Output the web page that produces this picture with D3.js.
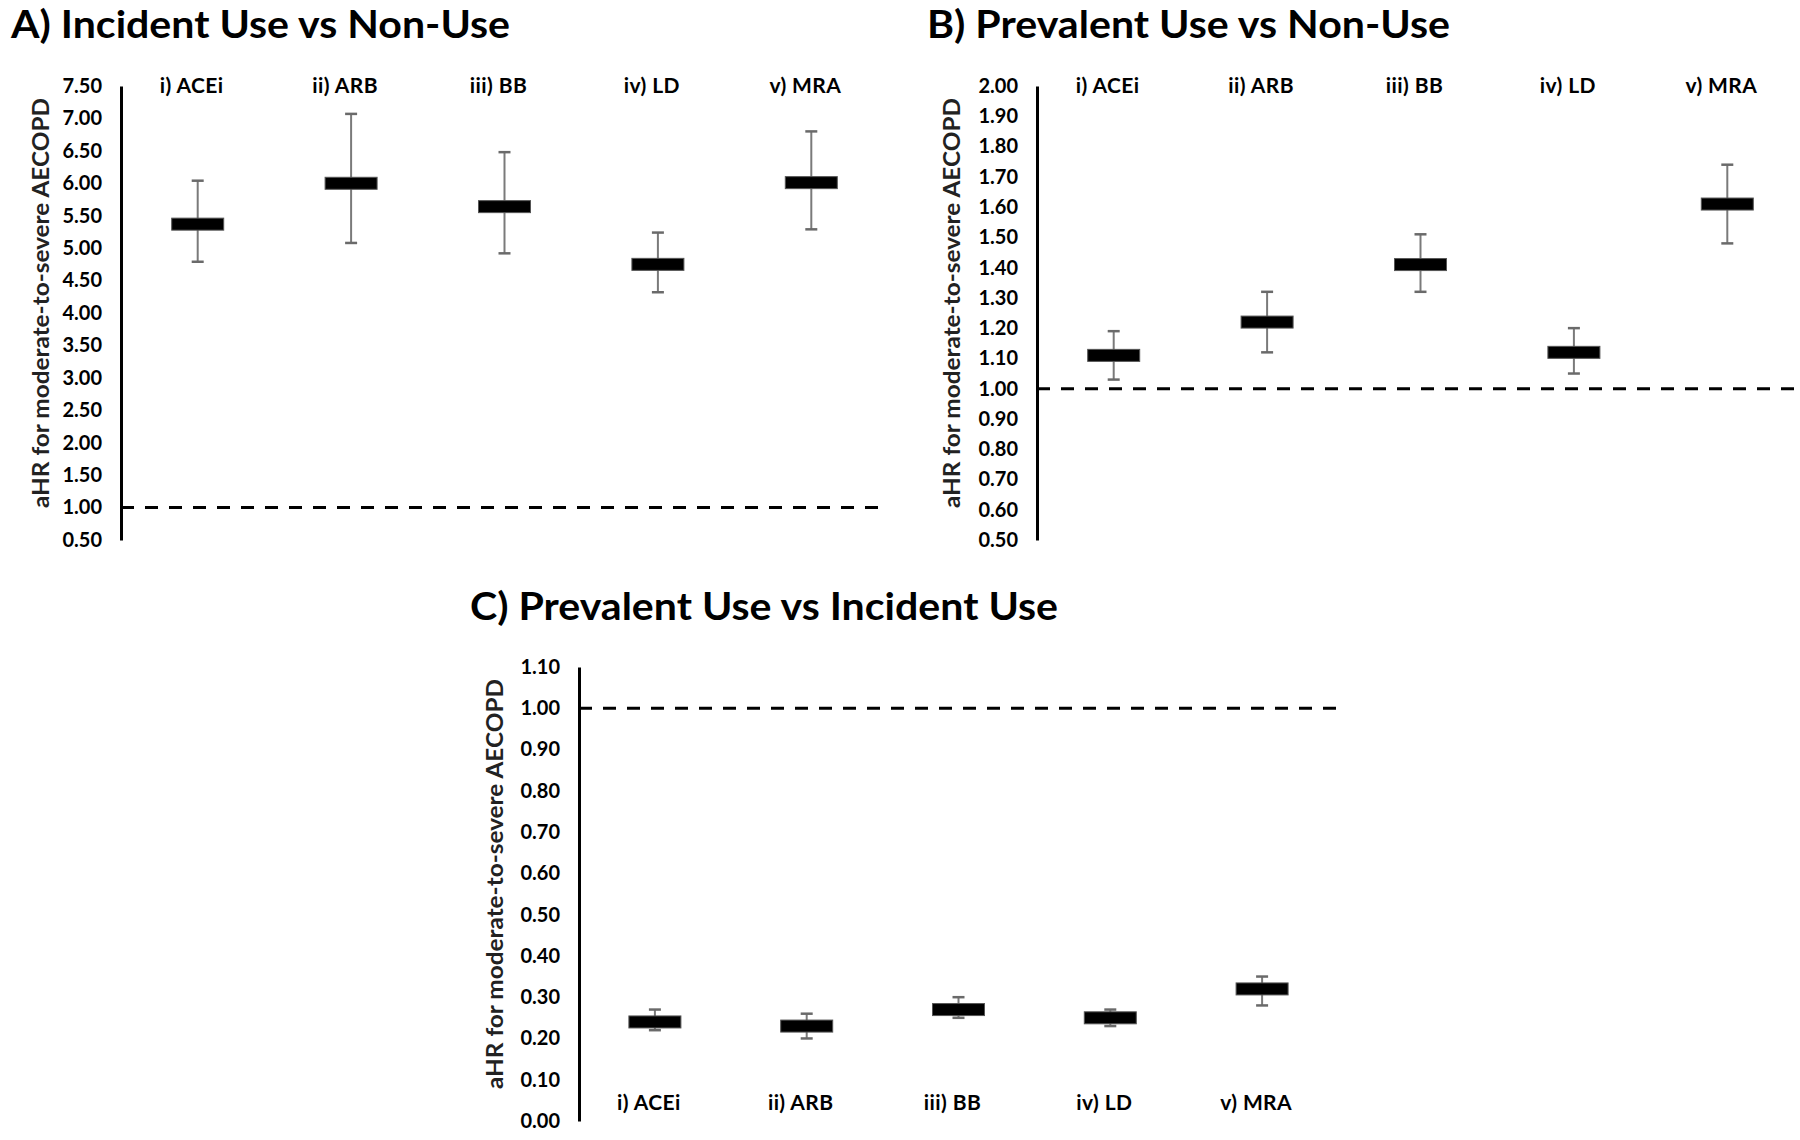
<!DOCTYPE html>
<html>
<head>
<meta charset="utf-8">
<script src="https://cdn.jsdelivr.net/npm/d3@7"></script>
<style>
  body { margin: 0; background: #fff; }
  svg text { font-family: Lato, "Open Sans", sans-serif; fill: #000; }
</style>
</head>
<body>
<div id="chart"></div>
<script>

// drug classes, same order in every panel
var categories = ["i) ACEi", "ii) ARB", "iii) BB", "iv) LD", "v) MRA"];

// A) incident use vs non-use
var incidentHR = [5.37, 6.00, 5.64, 4.75, 6.01];
var incidentLo = [4.79, 5.08, 4.92, 4.32, 5.29];
var incidentHi = [6.04, 7.07, 6.48, 5.24, 6.80];

// B) prevalent use vs non-use
var prevalentHR = [1.11, 1.22, 1.41, 1.12, 1.61];
var prevalentLo = [1.03, 1.12, 1.32, 1.05, 1.48];
var prevalentHi = [1.19, 1.32, 1.51, 1.20, 1.74];

// C) prevalent use vs incident use
var prevIncHR = [0.24, 0.23, 0.27, 0.25, 0.32];
var prevIncLo = [0.22, 0.20, 0.25, 0.23, 0.28];
var prevIncHi = [0.27, 0.26, 0.30, 0.27, 0.35];

var ticksA = [0.5, 1.0, 1.5, 2.0, 2.5, 3.0, 3.5, 4.0, 4.5, 5.0, 5.5, 6.0, 6.5, 7.0, 7.5];
var ticksB = [0.5, 0.6, 0.7, 0.8, 0.9, 1.0, 1.1, 1.2, 1.3, 1.4, 1.5, 1.6, 1.7, 1.8, 1.9, 2.0];
var ticksC = [0.0, 0.1, 0.2, 0.3, 0.4, 0.5, 0.6, 0.7, 0.8, 0.9, 1.0, 1.1];

var yTitle = "aHR for moderate-to-severe AECOPD";

var width = 1800, height = 1140;

var svg = d3.select("#chart")
    .append("svg")
    .attr("width", width)
    .attr("height", height);

var panels = [
    { title: "A) Incident Use vs Non-Use", hr: incidentHR, lo: incidentLo, hi: incidentHi, ticks: ticksA,
      left: 121, right: 888, top: 86, bottom: 540, titleX: 11, titleY: 38, titleW: 499,
      yTitleX: 49, labels: "top" },
    { title: "B) Prevalent Use vs Non-Use", hr: prevalentHR, lo: prevalentLo, hi: prevalentHi, ticks: ticksB,
      left: 1037, right: 1804, top: 86, bottom: 540, titleX: 927, titleY: 38, titleW: 523,
      yTitleX: 960, labels: "top" },
    { title: "C) Prevalent Use vs Incident Use", hr: prevIncHR, lo: prevIncLo, hi: prevIncHi, ticks: ticksC,
      left: 579, right: 1338, top: 667, bottom: 1121, titleX: 470, titleY: 620, titleW: 588,
      yTitleX: 503, labels: "bottom" }
];

panels.forEach(function(p){

    var g = svg.append("g");

    var xScale = d3.scaleBand()
        .domain(categories)
        .range([p.left, p.right])
        .padding(0);

    var yScale = d3.scaleLinear()
        .domain([d3.min(p.ticks), d3.max(p.ticks)])
        .range([p.bottom, p.top]);

    var rows = categories.map(function(c, i){
        return { cat: c, hr: p.hr[i], lo: p.lo[i], hi: p.hi[i] };
    });

    // panel title
    g.append("text")
        .attr("x", p.titleX)
        .attr("y", p.titleY)
        .attr("textLength", p.titleW)
        .attr("lengthAdjust", "spacingAndGlyphs")
        .style("font-size", "38px")
        .style("font-weight", "bold")
        .text(p.title);

    // y axis
    var axis = g.append("g")
        .attr("transform", "translate(" + p.left + ",0)")
        .call(d3.axisLeft(yScale)
            .tickValues(p.ticks)
            .tickSize(0)
            .tickPadding(19)
            .tickFormat(d3.format(".2f")));

    axis.select(".domain")
        .attr("stroke", "#000")
        .attr("stroke-width", 3);

    axis.selectAll(".tick text")
        .style("font-size", "20px")
        .style("font-weight", "bold")
        .style("font-family", "Lato, 'Open Sans', sans-serif")
        .attr("fill", "#000");

    // y axis title
    var midY = (p.top + p.bottom) / 2 - 10;
    g.append("text")
        .attr("transform", "translate(" + p.yTitleX + "," + midY + ") rotate(-90)")
        .attr("text-anchor", "middle")
        .attr("textLength", 410)
        .attr("lengthAdjust", "spacingAndGlyphs")
        .style("font-size", "22px")
        .style("font-weight", "bold")
        .style("fill", "#222")
        .text(yTitle);

    // reference line at HR = 1
    g.append("line")
        .attr("x1", p.left)
        .attr("x2", p.right)
        .attr("y1", yScale(1))
        .attr("y2", yScale(1))
        .attr("stroke", "#000")
        .attr("stroke-width", 3)
        .attr("stroke-dasharray", "13,11");

    // category labels
    var labelY = p.labels === "top" ? yScale(d3.max(p.ticks)) + 7 : p.bottom - 11;
    g.selectAll("text.cat")
        .data(categories)
        .enter()
        .append("text")
        .attr("class", "cat")
        .attr("x", function(d){ return xScale(d) + xScale.bandwidth() / 2 - 6; })
        .attr("y", labelY)
        .attr("text-anchor", "middle")
        .style("font-size", "21px")
        .style("letter-spacing", "0.4px")
        .style("font-weight", "bold")
        .text(function(d){ return d; });

    var cx = function(d){ return xScale(d.cat) + xScale.bandwidth() / 2; };

    // confidence intervals
    g.selectAll("line.ci")
        .data(rows)
        .enter()
        .append("line")
        .attr("class", "ci")
        .attr("x1", cx)
        .attr("x2", cx)
        .attr("y1", function(d){ return yScale(d.lo); })
        .attr("y2", function(d){ return yScale(d.hi); })
        .attr("stroke", "#7a7a7a")
        .attr("stroke-width", 2);

    ["lo", "hi"].forEach(function(k){
        g.selectAll("line.cap-" + k)
            .data(rows)
            .enter()
            .append("line")
            .attr("class", "cap-" + k)
            .attr("x1", function(d){ return cx(d) - 6; })
            .attr("x2", function(d){ return cx(d) + 6; })
            .attr("y1", function(d){ return yScale(d[k]); })
            .attr("y2", function(d){ return yScale(d[k]); })
            .attr("stroke", "#6a6a6a")
            .attr("stroke-width", 2.5);
    });

    // point estimates
    g.selectAll("rect.hr")
        .data(rows)
        .enter()
        .append("rect")
        .attr("class", "hr")
        .attr("x", function(d){ return cx(d) - 26; })
        .attr("y", function(d){ return yScale(d.hr) - 6; })
        .attr("width", 52)
        .attr("height", 12)
        .attr("fill", "#000")
        .attr("stroke", "#555")
        .attr("stroke-width", 1);
});

</script>
</body>
</html>
